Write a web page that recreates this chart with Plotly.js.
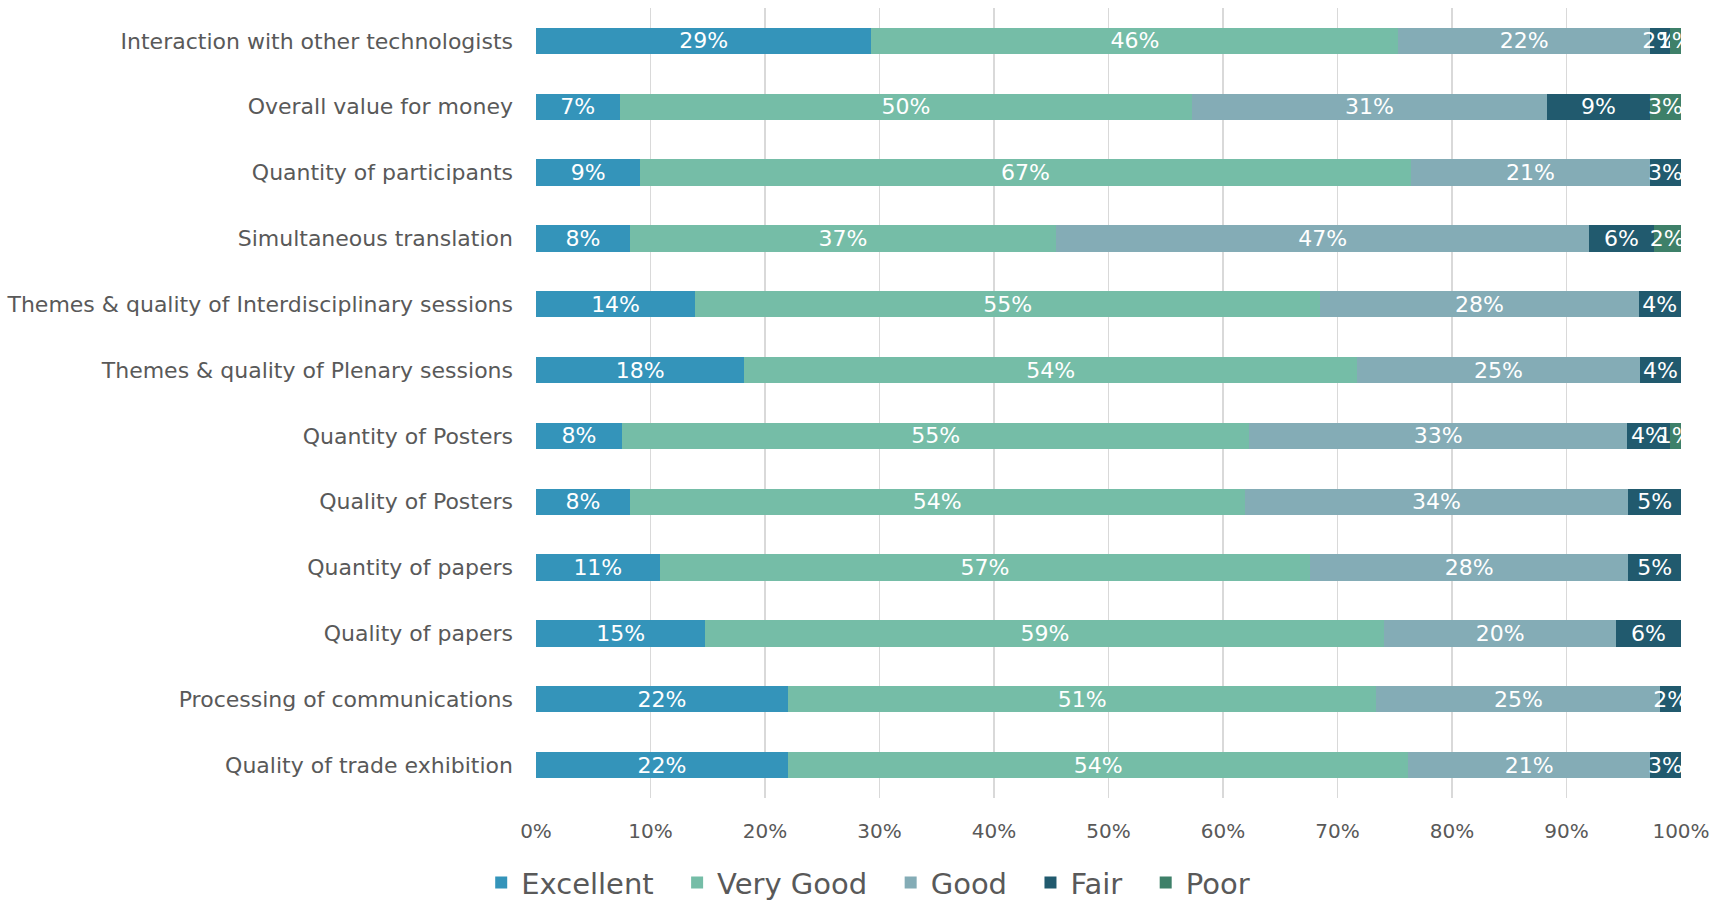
<!DOCTYPE html>
<html>
<head>
<meta charset="utf-8">
<script src="https://cdn.plot.ly/plotly-3.0.1.min.js"></script>
<style>html,body{margin:0;padding:0;background:#fff;}#chart{width:1713px;height:903px;}</style>
</head>
<body>
<div id="chart"></div>
<script>
const categories = [
  "Interaction with other technologists",
  "Overall value for money",
  "Quantity of participants",
  "Simultaneous translation",
  "Themes & quality of Interdisciplinary sessions",
  "Themes & quality of Plenary sessions",
  "Quantity of Posters",
  "Quality of Posters",
  "Quantity of papers",
  "Quality of papers",
  "Processing of communications",
  "Quality of trade exhibition"
];
const seriesNames = ["Excellent", "Very Good", "Good", "Fair", "Poor"];
const excellent = [29.3, 7.3, 9.1, 8.2, 13.9, 18.2, 7.5, 8.2, 10.8, 14.8, 22.0, 22.0];
const veryGood  = [46.0, 50.0, 67.3, 37.2, 54.6, 53.5, 54.8, 53.7, 56.8, 59.3, 51.4, 54.2];
const good      = [22.0, 31.0, 20.9, 46.6, 27.8, 24.7, 33.0, 33.5, 27.8, 20.2, 24.8, 21.1];
const fair      = [1.7, 9.0, 2.7, 5.6, 3.7, 3.6, 3.7, 4.6, 4.6, 5.7, 1.8, 2.7];
const poor      = [1.0, 2.7, 0, 2.4, 0, 0, 1.0, 0, 0, 0, 0, 0];
const colors = ["#3494BA", "#75BDA7", "#84ACB6", "#215A6E", "#3E8069"];
const xTickVals = [0, 10, 20, 30, 40, 50, 60, 70, 80, 90, 100];
const xTickText = ["0%", "10%", "20%", "30%", "40%", "50%", "60%", "70%", "80%", "90%", "100%"];

const FONT = "DejaVu Sans, sans-serif";
const values = [excellent, veryGood, good, fair, poor];
const traces = values.map((vals, i) => ({
  type: "bar",
  orientation: "h",
  name: seriesNames[i] + "\u00a0\u00a0",
  y: categories,
  x: vals,
  marker: { color: colors[i] },
  text: vals.map(v => v > 0 ? Math.round(v) + "%" : ""),
  texttemplate: "%{text}",
  textposition: "inside",
  insidetextanchor: "middle",
  constraintext: "none",
  textangle: 0,
  textfont: { color: "#ffffff", size: 22, family: FONT },
  hoverinfo: "x+y+name"
}));

const layout = {
  width: 1713,
  height: 903,
  barmode: "stack",
  bargap: 0.6,
  margin: { l: 536, r: 32, t: 8, b: 105, pad: 0, autoexpand: false },
  paper_bgcolor: "#ffffff",
  plot_bgcolor: "#ffffff",
  font: { family: FONT, color: "#595959" },
  xaxis: {
    range: [0, 100],
    tickvals: xTickVals,
    ticktext: xTickText,
    showgrid: true,
    gridcolor: "#d9d9d9",
    gridwidth: 1.5,
    zeroline: false,
    showline: false,
    ticks: "",
    ticklabelstandoff: 19,
    tickfont: { size: 20, family: FONT, color: "#595959" },
    fixedrange: true
  },
  yaxis: {
    type: "category",
    autorange: "reversed",
    showgrid: false,
    zeroline: false,
    showline: false,
    ticks: "",
    ticklabelstandoff: 22,
    tickfont: { size: 22, family: FONT, color: "#595959" },
    fixedrange: true
  },
  legend: {
    orientation: "h",
    x: 0.298,
    xanchor: "center",
    y: -0.107,
    yanchor: "middle",
    font: { size: 29, family: FONT, color: "#595959" },
    itemwidth: 30,
    traceorder: "normal"
  },
  showlegend: true
};

Plotly.newPlot("chart", traces, layout, { displayModeBar: false, staticPlot: true });
</script>
</body>
</html>
